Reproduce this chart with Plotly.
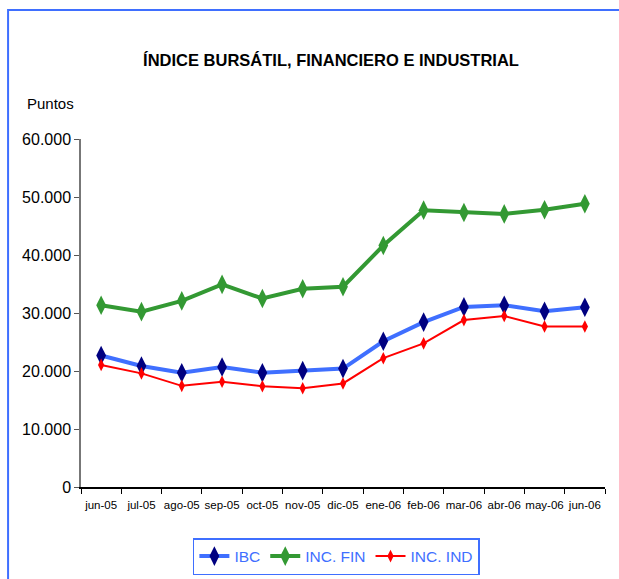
import plotly.graph_objects as go

months = ["jun-05", "jul-05", "ago-05", "sep-05", "oct-05", "nov-05", "dic-05",
          "ene-06", "feb-06", "mar-06", "abr-06", "may-06", "jun-06"]
ibc = [22670, 20870, 19710, 20700, 19710, 20060, 20410, 25120, 28430, 31050, 31340, 30290, 30990]
inc_fin = [31340, 30230, 32090, 34940, 32500, 34190, 34530, 41630, 47730, 47330, 47090, 47790, 48840]
inc_ind = [21050, 19590, 17440, 18140, 17380, 17030, 17850, 22210, 24770, 28780, 29480, 27670, 27670]
y_ticks = [0, 10000, 20000, 30000, 40000, 50000, 60000]

REG = "Liberation Sans, Arial, sans-serif"

fig = go.Figure()
fig.add_trace(go.Scatter(x=months, y=ibc, name="IBC", mode="lines+markers",
                         line=dict(color="#3F6FFF", width=4),
                         marker=dict(symbol="diamond-tall", size=14, color="#000080")))
fig.add_trace(go.Scatter(x=months, y=inc_fin, name="INC. FIN", mode="lines+markers",
                         line=dict(color="#339933", width=4),
                         marker=dict(symbol="diamond-tall", size=14, color="#339933")))
fig.add_trace(go.Scatter(x=months, y=inc_ind, name="INC. IND", mode="lines+markers",
                         line=dict(color="#FF0000", width=2),
                         marker=dict(symbol="diamond-tall", size=9, color="#FF0000")))

L, R, T, B = 81, 605.5, 139, 487
W, H = 619, 579
pw, ph = R - L, B - T

def px_x(x):
    return (x - L) / pw

def px_y(y):
    return (B - y) / ph

fig.update_layout(
    width=W, height=H,
    margin=dict(l=L, r=W - R, t=T, b=H - B, pad=0, autoexpand=False),
    paper_bgcolor="white", plot_bgcolor="white",
    separators=",.",
    showlegend=True,
    title=dict(text="<b>ÍNDICE BURSÁTIL, FINANCIERO E INDUSTRIAL</b>",
               font=dict(family=REG, size=16.5, color="black"),
               x=331 / W, xanchor="center", xref="container",
               y=1 - 60 / H, yanchor="middle", yref="container"),
    legend=dict(orientation="h", x=px_x(193), xanchor="left",
                y=px_y(538), yanchor="top",
                font=dict(family=REG, size=15.5, color="#3F6FFF"),
                bordercolor="#3F6FFF", borderwidth=1.5, bgcolor="white",
                itemwidth=30, tracegroupgap=0),
    xaxis=dict(type="category", range=[-0.5, len(months) - 0.5],
               tickson="boundaries", ticks="outside", ticklen=5,
               tickcolor="black", showline=True, linecolor="black", linewidth=1.5,
               showgrid=False, tickfont=dict(family=REG, size=11.5, color="black"),
               tickangle=0, automargin=False,
               ticklabelstandoff=6, fixedrange=True),
    yaxis=dict(range=[0, 60000], tickvals=y_ticks, tickformat=",.0f",
               ticks="outside", ticklen=5, tickcolor="#555555",
               showline=True, linecolor="#777777", linewidth=1.5,
               showgrid=False, zeroline=False, automargin=False,
               tickfont=dict(family=REG, size=16, color="black"),
               fixedrange=True),
    annotations=[dict(text="Puntos", x=px_x(50), y=px_y(104), xref="paper", yref="paper",
                      showarrow=False, xanchor="center", yanchor="middle",
                      font=dict(family=REG, size=15, color="black"))],
    shapes=[dict(type="rect", xref="paper", yref="paper",
                 x0=px_x(8), x1=px_x(640), y0=px_y(600), y1=px_y(10),
                 line=dict(color="#3F6FFF", width=2), layer="below")],
)

fig.write_html("out.html", config={"displayModeBar": False},
               post_script="document.body.style.margin='0';document.body.style.overflow='hidden';")
